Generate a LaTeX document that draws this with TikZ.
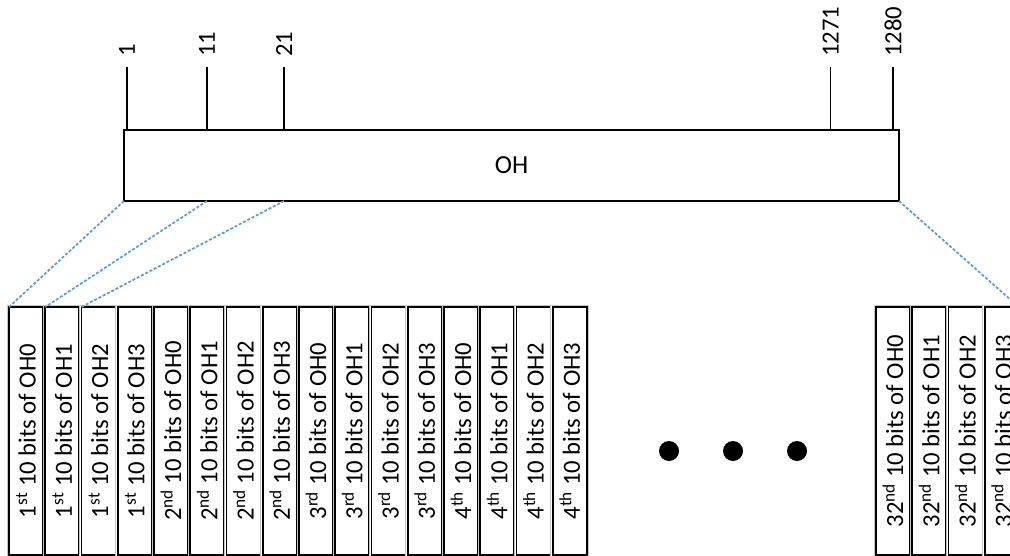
\documentclass[tikz,border=0pt]{standalone}
\usepackage{fontspec}
\setmainfont{Carlito}
\definecolor{linkblue}{RGB}{91,155,213}
\begin{document}
\begin{tikzpicture}[x=0.75pt,y=-0.75pt,
  frame/.style={draw=black,line width=1.25pt,fill=white,inner sep=0pt,outer sep=0pt},
  cell/.style={frame,minimum width=25.5pt,minimum height=186pt},
  celltext/.style={rotate=90,inner sep=0pt,font=\fontsize{18.5}{20}\selectfont},
  ticklabel/.style={rotate=90,anchor=west,inner sep=0pt,font=\fontsize{18.5}{20}\selectfont},
  tick/.style={line width=1.25pt},
  link/.style={draw=linkblue,line width=1.3pt,dash pattern=on 2.2pt off 1.4pt},
  dot/.style={circle,fill=black,inner sep=0pt,minimum size=15pt}]
\useasboundingbox (0,0) rectangle (1010,556);

% overhead block with its bit positions
\node[frame,minimum width=581.25pt,minimum height=53.25pt,
      font=\fontsize{19.5}{22}\selectfont] (oh) at (511.5,165.5) {OH};
\foreach \n/\x in {1/127,11/207,21/284,1271/830.5,1280/893}{
  \coordinate (t\n) at (\x,67);
  \draw[tick] (t\n) -- (t\n |- oh.north);
  \node[ticklabel] (n\n) at ([yshift=7.5pt]t\n) {\n};
}

% 10-bit slices of the first four rows
\foreach \i/\k/\s/\o in {0/1/st/0,1/1/st/1,2/1/st/2,3/1/st/3,
                         4/2/nd/0,5/2/nd/1,6/2/nd/2,7/2/nd/3,
                         8/3/rd/0,9/3/rd/1,10/3/rd/2,11/3/rd/3,
                         12/4/th/0,13/4/th/1,14/4/th/2,15/4/th/3}{
  \draw[gray!45,line width=0.6pt] (9+36.25*\i-2,305) rectangle (9+36.25*\i+36,557);
  \node[cell] (l\i) at (26+36.25*\i,431) {};
  \node[celltext] (lt\i) at (l\i.center) {\k\textsuperscript{\s} 10 bits of OH\o};
}

% slices of the last row
\foreach \i in {0,...,3}{
  \draw[gray!45,line width=0.6pt] (876+36.25*\i-2,305) rectangle (876+36.25*\i+36,557);
  \node[cell] (r\i) at (893+36.25*\i,431) {};
  \node[celltext] (rt\i) at (r\i.center) {32\textsuperscript{nd} 10 bits of OH\i};
}

% ellipsis between the two groups
\node[dot] (d1) at (669,451) {};
\node[dot] (d2) at (733,451) {};
\node[dot] (d3) at (797,451) {};

% mapping from the overhead block to the slices
\draw[link] (oh.south west) -- (l0.north west);
\draw[link] (t11 |- oh.south) -- (l1.north west);
\draw[link] (t21 |- oh.south) -- (l2.north west);
\draw[link] (oh.south east) -- (r3.north east);
\end{tikzpicture}
\end{document}
